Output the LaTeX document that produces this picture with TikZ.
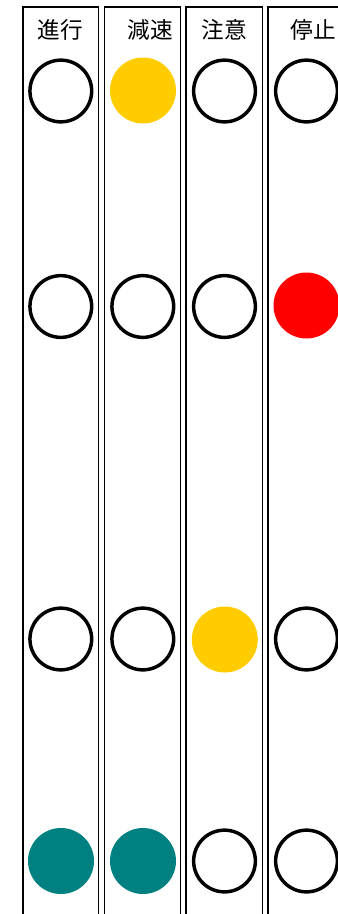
\documentclass[tikz,border=0pt]{standalone}
\usepackage{fontspec}
\newfontfamily\jpfont{Noto Sans CJK JP}
\usepackage{xcolor}
\definecolor{sigyellow}{RGB}{255,204,0}
\definecolor{sigred}{RGB}{255,0,0}
\definecolor{siggreen}{RGB}{0,128,128}
\usepackage{tikz}
\usetikzlibrary{positioning}

\begin{document}
\begin{tikzpicture}[x=0.75pt, y=-0.75pt,
    panel/.style={draw=black, line width=1.2pt},
    lbl/.style={font=\jpfont\fontsize{17}{20}\selectfont, inner sep=0pt},
    lampoff/.style={circle, draw=black, line width=2.6pt, fill=white, minimum size=46.3pt, inner sep=0pt},
    lampon/.style={circle, fill=#1, minimum size=49.5pt, inner sep=0pt}]
  \useasboundingbox (0,0) rectangle (338,914);
  \clip (0,0) rectangle (338,914);

  % Panel borders (open at the bottom)
  \draw[panel] (23,930) -- (23,6.8) -- (98.5,6.8) -- (98.5,930);
  \draw[panel] (104.5,930) -- (104.5,6.8) -- (180.5,6.8) -- (180.5,930);
  \draw[panel] (186,930) -- (186,6.8) -- (262.5,6.8) -- (262.5,930);
  \draw[panel] (268,930) -- (268,6.8) -- (345,6.8) -- (345,930);

  % --- Panel 1: go ---
  \node[lbl] (golbl) at (60.3,29.5) {進行};
  \node[lampoff] (go1) at (60.8,91) {};
  \node[lampoff] (go2) at (60.8,306.5) {};
  \node[lampoff] (go3) at (60.8,639) {};
  \node[lampon=siggreen] (go4) at (61,861) {};

  % --- Panel 2: slow ---
  \node[lbl] (slowlbl) at (150,29.5) {減速};
  \node[lampon=sigyellow] (slow1) at (143,90.5) {};
  \node[lampoff] (slow2) at (142.8,306.5) {};
  \node[lampoff] (slow3) at (142.8,639) {};
  \node[lampon=siggreen] (slow4) at (143,861) {};

  % --- Panel 3: caution ---
  \node[lbl] (cautlbl) at (224,29.5) {注意};
  \node[lampoff] (caut1) at (224.5,91) {};
  \node[lampoff] (caut2) at (224.5,306.5) {};
  \node[lampon=sigyellow] (caut3) at (224.8,639.5) {};
  \node[lampoff] (caut4) at (224.5,861) {};

  % --- Panel 4: stop ---
  \node[lbl] (stoplbl) at (313,29.5) {停止};
  \node[lampoff] (stop1) at (306.5,91) {};
  \node[lampon=sigred] (stop2) at (306.5,305.5) {};
  \node[lampoff] (stop3) at (306.5,639) {};
  \node[lampoff] (stop4) at (306.5,861) {};
\end{tikzpicture}
\end{document}
